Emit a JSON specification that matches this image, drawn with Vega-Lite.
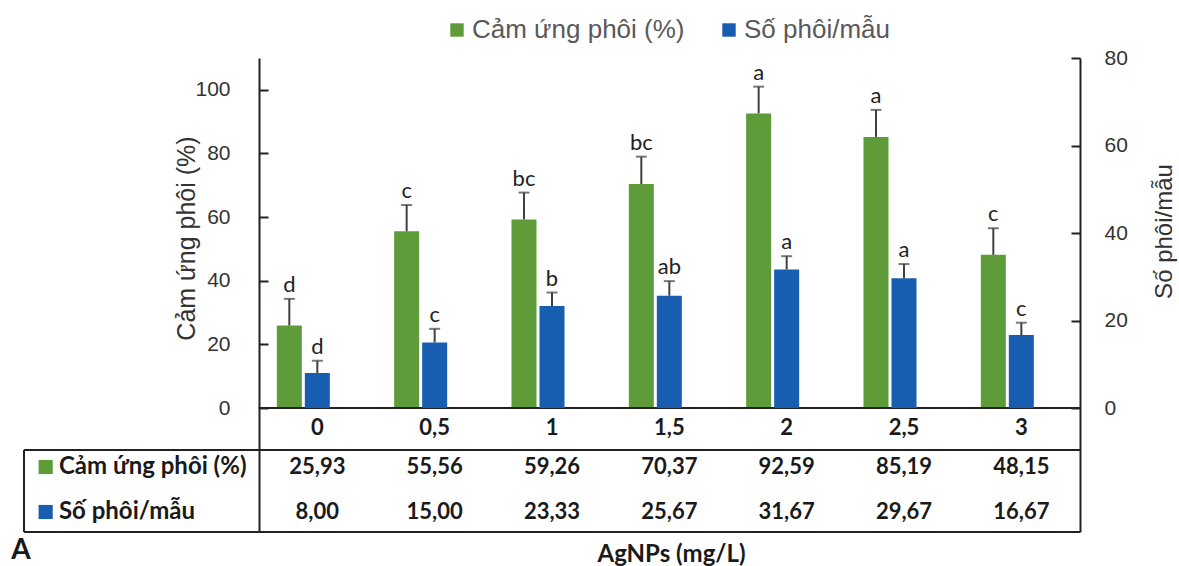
{
  "$schema": "https://vega.github.io/schema/vega-lite/v6.json",
  "width": 1056,
  "height": 474,
  "autosize": {"type": "none"},
  "padding": {"left": 24, "top": 58, "right": 99, "bottom": 34},
  "config": {
    "view": {"stroke": null},
    "font": "Liberation Sans",
    "locale": {"number": {"decimal": ",", "thousands": ".", "grouping": [3], "currency": ["", ""]}}
  },
  "data": {
    "values": [
      {"c": "0", "k": "cam", "s": "Cảm ứng phôi (%)", "v": 25.93, "top": 34.3, "l": "d"},
      {"c": "0,5", "k": "cam", "s": "Cảm ứng phôi (%)", "v": 55.56, "top": 63.8, "l": "c"},
      {"c": "1", "k": "cam", "s": "Cảm ứng phôi (%)", "v": 59.26, "top": 67.7, "l": "bc"},
      {"c": "1,5", "k": "cam", "s": "Cảm ứng phôi (%)", "v": 70.37, "top": 79.0, "l": "bc"},
      {"c": "2", "k": "cam", "s": "Cảm ứng phôi (%)", "v": 92.59, "top": 101.0, "l": "a"},
      {"c": "2,5", "k": "cam", "s": "Cảm ứng phôi (%)", "v": 85.19, "top": 93.7, "l": "a"},
      {"c": "3", "k": "cam", "s": "Cảm ứng phôi (%)", "v": 48.15, "top": 56.5, "l": "c"},
      {"c": "0", "k": "so", "s": "Số phôi/mẫu", "v": 8.00, "top": 10.8, "l": "d"},
      {"c": "0,5", "k": "so", "s": "Số phôi/mẫu", "v": 15.00, "top": 18.1, "l": "c"},
      {"c": "1", "k": "so", "s": "Số phôi/mẫu", "v": 23.33, "top": 26.4, "l": "b"},
      {"c": "1,5", "k": "so", "s": "Số phôi/mẫu", "v": 25.67, "top": 29.0, "l": "ab"},
      {"c": "2", "k": "so", "s": "Số phôi/mẫu", "v": 31.67, "top": 34.7, "l": "a"},
      {"c": "2,5", "k": "so", "s": "Số phôi/mẫu", "v": 29.67, "top": 32.9, "l": "a"},
      {"c": "3", "k": "so", "s": "Số phôi/mẫu", "v": 16.67, "top": 19.5, "l": "c"}
    ]
  },
  "layer": [
    {
      "layer": [
        {
          "transform": [{"filter": "datum.k === 'cam'"}],
          "mark": {"type": "bar"},
          "encoding": {
            "x": {
              "field": "c",
              "type": "nominal",
              "sort": null,
              "scale": {"domain": ["h1", "h2", "0", "0,5", "1", "1,5", "2", "2,5", "3"], "paddingInner": 0, "paddingOuter": 0},
              "axis": {
                "title": "AgNPs (mg/L)",
                "labels": false,
                "ticks": false,
                "domain": false,
                "titleFont": "Lato",
                "titleFontWeight": "bold",
                "titleFontSize": 24,
                "titleColor": "#1a1a1a",
                "titleX": 647,
                "titleY": 29,
                "titleBaseline": "alphabetic"
              }
            },
            "xOffset": {"field": "s", "type": "nominal", "scale": {"domain": ["Cảm ứng phôi (%)", "Số phôi/mẫu", "z"], "paddingInner": 0.107, "paddingOuter": 0.648}},
            "y": {
              "field": "v",
              "type": "quantitative",
              "title": "Cảm ứng phôi (%)",
              "scale": {"domain": [-38.97, 110], "nice": false, "zero": false},
              "axis": {
                "values": [0, 20, 40, 60, 80, 100],
                "offset": -235,
                "grid": false,
                "tickSize": -9,
                "tickWidth": 2,
                "tickColor": "#222",
                "domainColor": "#222",
                "domainWidth": 2,
                "labelPadding": 38,
                "labelFontSize": 21,
                "labelColor": "#333",
                "labelFont": "Liberation Sans",
                "titleFont": "Liberation Sans",
                "titleFontSize": 25,
                "titleFontWeight": "normal",
                "titleColor": "#333",
                "titleX": -73,
                "titleY": 180,
                "titleBaseline": "middle",
                "titleAlign": "center"
              }
            },
            "color": {
              "field": "s",
              "type": "nominal",
              "scale": {"domain": ["Cảm ứng phôi (%)", "Số phôi/mẫu"], "range": ["#5E9C3A", "#175DB0"]},
              "legend": {
                "title": null,
                "orient": "none",
                "legendX": 420,
                "legendY": -41,
                "direction": "horizontal",
                "symbolType": "square",
                "symbolSize": 180,
                "symbolStrokeWidth": 0,
                "labelFontSize": 26,
                "labelLimit": 0,
                "labelColor": "#595959",
                "labelFont": "Liberation Sans",
                "labelOffset": 2,
                "columnPadding": 31
              }
            }
          }
        },
        {
          "transform": [{"filter": "datum.k === 'cam'"}],
          "mark": {"type": "rule", "color": "#404040", "strokeWidth": 2},
          "encoding": {
            "x": {"field": "c", "type": "nominal", "sort": null},
            "xOffset": {"field": "s", "type": "nominal"},
            "y": {"field": "v", "type": "quantitative"},
            "y2": {"field": "top"}
          }
        },
        {
          "transform": [{"filter": "datum.k === 'cam'"}],
          "mark": {"type": "tick", "color": "#404040", "thickness": 2, "size": 11},
          "encoding": {
            "x": {"field": "c", "type": "nominal", "sort": null},
            "xOffset": {"field": "s", "type": "nominal"},
            "y": {"field": "top", "type": "quantitative"}
          }
        },
        {
          "transform": [{"filter": "datum.k === 'cam'"}],
          "mark": {"type": "text", "font": "Lato", "fontSize": 22, "color": "#222", "baseline": "alphabetic", "dy": -7},
          "encoding": {
            "x": {"field": "c", "type": "nominal", "sort": null},
            "xOffset": {"field": "s", "type": "nominal"},
            "y": {"field": "top", "type": "quantitative"},
            "text": {"field": "l"}
          }
        },
        {
          "data": {"values": [{}]},
          "mark": {"type": "rule", "color": "#222", "strokeWidth": 2},
          "encoding": {
            "x": {"datum": "0", "bandPosition": 0},
            "x2": {"datum": "3", "bandPosition": 1},
            "y": {"datum": 0}
          }
        },
        {
          "data": {"values": [{}]},
          "mark": {"type": "rule", "color": "#222", "strokeWidth": 2},
          "encoding": {"y": {"datum": -13.2}}
        },
        {
          "data": {"values": [{}]},
          "mark": {"type": "rule", "color": "#222", "strokeWidth": 2},
          "encoding": {"y": {"datum": -38.97}}
        },
        {
          "data": {"values": [{}]},
          "mark": {"type": "rule", "color": "#222", "strokeWidth": 2},
          "encoding": {
            "x": {"datum": "h1", "bandPosition": 0},
            "y": {"datum": -13.2},
            "y2": {"datum": -38.97}
          }
        },
        {
          "transform": [{"filter": "datum.k === 'cam'"}],
          "mark": {"type": "text", "font": "Lato", "fontWeight": "bold", "fontSize": 22, "color": "#1a1a1a", "baseline": "middle"},
          "encoding": {
            "x": {"field": "c", "type": "nominal", "sort": null},
            "y": {"datum": -6.29},
            "text": {"field": "c"}
          }
        },
        {
          "transform": [{"filter": "datum.k === 'cam'"}],
          "mark": {"type": "text", "font": "Lato", "fontWeight": "bold", "fontSize": 22, "color": "#1a1a1a", "baseline": "middle"},
          "encoding": {
            "x": {"field": "c", "type": "nominal", "sort": null},
            "y": {"datum": -18.54},
            "text": {"field": "v", "format": ".2f"}
          }
        },
        {
          "transform": [{"filter": "datum.k === 'so'"}],
          "mark": {"type": "text", "font": "Lato", "fontWeight": "bold", "fontSize": 22, "color": "#1a1a1a", "baseline": "middle"},
          "encoding": {
            "x": {"field": "c", "type": "nominal", "sort": null},
            "y": {"datum": -32.68},
            "text": {"field": "v", "format": ".2f"}
          }
        },
        {
          "transform": [{"filter": "datum.k === 'cam' && datum.c === '0'"}],
          "mark": {"type": "text", "font": "Lato", "fontWeight": "bold", "fontSize": 24, "color": "#1a1a1a", "baseline": "middle", "align": "left", "dx": -23.7},
          "encoding": {
            "x": {"datum": "h1"},
            "y": {"datum": -18.54},
            "text": {"field": "s"}
          }
        },
        {
          "transform": [{"filter": "datum.k === 'so' && datum.c === '0'"}],
          "mark": {"type": "text", "font": "Lato", "fontWeight": "bold", "fontSize": 24, "color": "#1a1a1a", "baseline": "middle", "align": "left", "dx": -23.7},
          "encoding": {
            "x": {"datum": "h1"},
            "y": {"datum": -32.68},
            "text": {"field": "s"}
          }
        },
        {
          "transform": [{"filter": "datum.k === 'cam' && datum.c === '0'"}],
          "mark": {"type": "point", "shape": "square", "filled": true, "opacity": 1, "size": 200, "color": "#5E9C3A", "xOffset": -37},
          "encoding": {
            "x": {"datum": "h1"},
            "y": {"datum": -18.54}
          }
        },
        {
          "transform": [{"filter": "datum.k === 'so' && datum.c === '0'"}],
          "mark": {"type": "point", "shape": "square", "filled": true, "opacity": 1, "size": 200, "color": "#175DB0", "xOffset": -37},
          "encoding": {
            "x": {"datum": "h1"},
            "y": {"datum": -32.68}
          }
        },
        {
          "data": {"values": [{}]},
          "mark": {"type": "text", "text": "A", "font": "Lato", "fontWeight": "bold", "fontSize": 28, "color": "#1a1a1a", "baseline": "bottom", "dx": -61.7, "dy": 33},
          "encoding": {
            "x": {"datum": "h1"},
            "y": {"datum": -38.97}
          }
        }
      ]
    },
    {
      "transform": [{"filter": "datum.k === 'so'"}],
      "layer": [
        {
          "mark": {"type": "bar"},
          "encoding": {
            "x": {"field": "c", "type": "nominal", "sort": null},
            "xOffset": {"field": "s", "type": "nominal"},
            "y": {
              "field": "v",
              "type": "quantitative",
              "title": "Số phôi/mẫu",
              "scale": {"domain": [-28.34, 80], "nice": false, "zero": false},
              "axis": {
                "orient": "right",
                "values": [0, 20, 40, 60, 80],
                "grid": false,
                "tickSize": -9,
                "tickWidth": 2,
                "tickColor": "#222",
                "domainColor": "#222",
                "domainWidth": 2,
                "labelPadding": 33,
                "labelFontSize": 21,
                "labelColor": "#333",
                "labelFont": "Liberation Sans",
                "titleFont": "Liberation Sans",
                "titleFontSize": 24,
                "titleFontWeight": "normal",
                "titleColor": "#333",
                "titleAngle": 270,
                "titleX": 84,
                "titleY": 173,
                "titleBaseline": "middle",
                "titleAlign": "center"
              }
            },
            "color": {"field": "s", "type": "nominal"}
          }
        },
        {
          "mark": {"type": "rule", "color": "#404040", "strokeWidth": 2},
          "encoding": {
            "x": {"field": "c", "type": "nominal", "sort": null},
            "xOffset": {"field": "s", "type": "nominal"},
            "y": {"field": "v", "type": "quantitative"},
            "y2": {"field": "top"}
          }
        },
        {
          "mark": {"type": "tick", "color": "#404040", "thickness": 2, "size": 11},
          "encoding": {
            "x": {"field": "c", "type": "nominal", "sort": null},
            "xOffset": {"field": "s", "type": "nominal"},
            "y": {"field": "top", "type": "quantitative"}
          }
        },
        {
          "mark": {"type": "text", "font": "Lato", "fontSize": 22, "color": "#222", "baseline": "alphabetic", "dy": -7},
          "encoding": {
            "x": {"field": "c", "type": "nominal", "sort": null},
            "xOffset": {"field": "s", "type": "nominal"},
            "y": {"field": "top", "type": "quantitative"},
            "text": {"field": "l"}
          }
        }
      ]
    }
  ],
  "resolve": {"scale": {"y": "independent"}, "axis": {"y": "independent"}}
}
